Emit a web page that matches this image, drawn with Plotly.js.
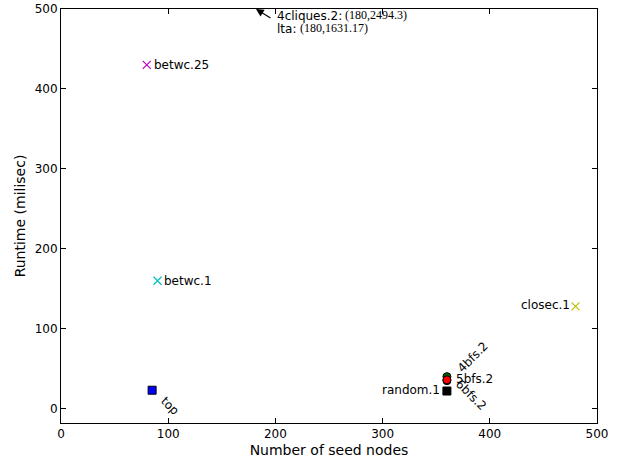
<!DOCTYPE html>
<html><head><meta charset="utf-8">
<script src="https://cdn.plot.ly/plotly-3.0.1.min.js"></script>
<style>body{margin:0;padding:0;background:#fff}</style>
</head><body>
<div id="chart" style="width:625px;height:461px"></div>
<script>
// Data
const names = ["top", "betwc.25", "betwc.1", "closec.1", "random.1", "6bfs.2", "4bfs.2", "5bfs.2"];
const seedNodes = [85, 80, 90, 480, 360, 360, 360, 360];
const runtimes = [23, 430, 160, 128, 22, 35, 40, 36];
const xTicks = [0, 100, 200, 300, 400, 500];
const yTicks = [0, 100, 200, 300, 400, 500];
const offChartX = 180;
const offChartLabels = ["4cliques.2", "lta"];
const offChartValues = [2494.3, 1631.17];

// Styles
const symbols = ["square", "x-thin", "x-thin", "x-thin", "square", "circle", "circle", "circle"];
const colors = ["#0000ff", "#bf00bf", "#00bfbf", "#bfbf00", "#000000", "#000000", "#006400", "#ff0000"];
const labelPos = [
  {textangle: 45, xanchor: "left", yanchor: "top", xshift: 3, yshift: -1},
  {textangle: 0, xanchor: "left", yanchor: "middle", xshift: 5, yshift: 0},
  {textangle: 0, xanchor: "left", yanchor: "middle", xshift: 5, yshift: 0},
  {textangle: 0, xanchor: "right", yanchor: "middle", xshift: -4, yshift: 1},
  {textangle: 0, xanchor: "right", yanchor: "middle", xshift: -5, yshift: 1},
  {textangle: 45, xanchor: "left", yanchor: "top", xshift: 3, yshift: 6},
  {textangle: -45, xanchor: "left", yanchor: "bottom", xshift: 5, yshift: -1},
  {textangle: 0, xanchor: "left", yanchor: "middle", xshift: 7, yshift: 1}
];

const traces = names.map((n, i) => ({
  type: "scatter", mode: "markers", name: n,
  x: [seedNodes[i]], y: [runtimes[i]],
  marker: {
    symbol: symbols[i], size: 8,
    color: colors[i],
    line: symbols[i] === "x-thin" ? {color: colors[i], width: 1.2} : {color: "#000", width: 1}
  },
  showlegend: false, hoverinfo: "skip"
}));

const font = {family: "DejaVu Sans", size: 12, color: "#000"};
const serifFont = {family: "Liberation Serif", size: 12, color: "#000"};
const annotations = names.map((n, i) => Object.assign({
  x: seedNodes[i], y: runtimes[i], xref: "x", yref: "y",
  text: n, showarrow: false, font: font
}, labelPos[i]));

annotations.push({
  x: offChartX, y: 500, xref: "x", yref: "y", text: "", showarrow: true, xshift: 2,
  ax: 16, ay: 10, arrowhead: 2, arrowsize: 1.3, arrowwidth: 1.2, arrowcolor: "#000",
  standoff: 0
});
const valueShifts = [89, 44];
offChartLabels.forEach((l, i) => {
  annotations.push({
    x: offChartX, y: 500, xref: "x", yref: "y", text: l + ":", showarrow: false,
    xanchor: "left", yanchor: "middle", xshift: 21, yshift: -7 - 13 * i, font: font
  });
  annotations.push({
    x: offChartX, y: 500, xref: "x", yref: "y",
    text: "(" + offChartX + "," + offChartValues[i] + ")", showarrow: false,
    xanchor: "left", yanchor: "middle", xshift: valueShifts[i], yshift: -6 - 13 * i, font: serifFont
  });
});

const axisCommon = {
  showgrid: false, zeroline: false, showline: true, linecolor: "#000", linewidth: 1,
  mirror: "ticks", ticks: "inside", ticklen: 5, tickwidth: 1, tickcolor: "#000",
  tickfont: {family: "DejaVu Sans", size: 12, color: "#000"}
};

const layout = {
  width: 625, height: 461,
  margin: {l: 61, r: 28, t: 9, b: 38},
  paper_bgcolor: "#fff", plot_bgcolor: "#fff",
  xaxis: Object.assign({}, axisCommon, {
    range: [0, 500], tickvals: xTicks, ticktext: xTicks.map(String),
    title: {text: "Number of seed nodes", font: {family: "DejaVu Sans", size: 14, color: "#000"}, standoff: 4}
  }),
  yaxis: Object.assign({}, axisCommon, {
    range: [-18, 500], tickvals: yTicks, ticktext: yTicks.map(String),
    title: {text: "Runtime (milisec)", font: {family: "DejaVu Sans", size: 14, color: "#000"}, standoff: 5}
  }),
  annotations: annotations
};

Plotly.newPlot("chart", traces, layout, {staticPlot: true});
</script>
</body></html>
